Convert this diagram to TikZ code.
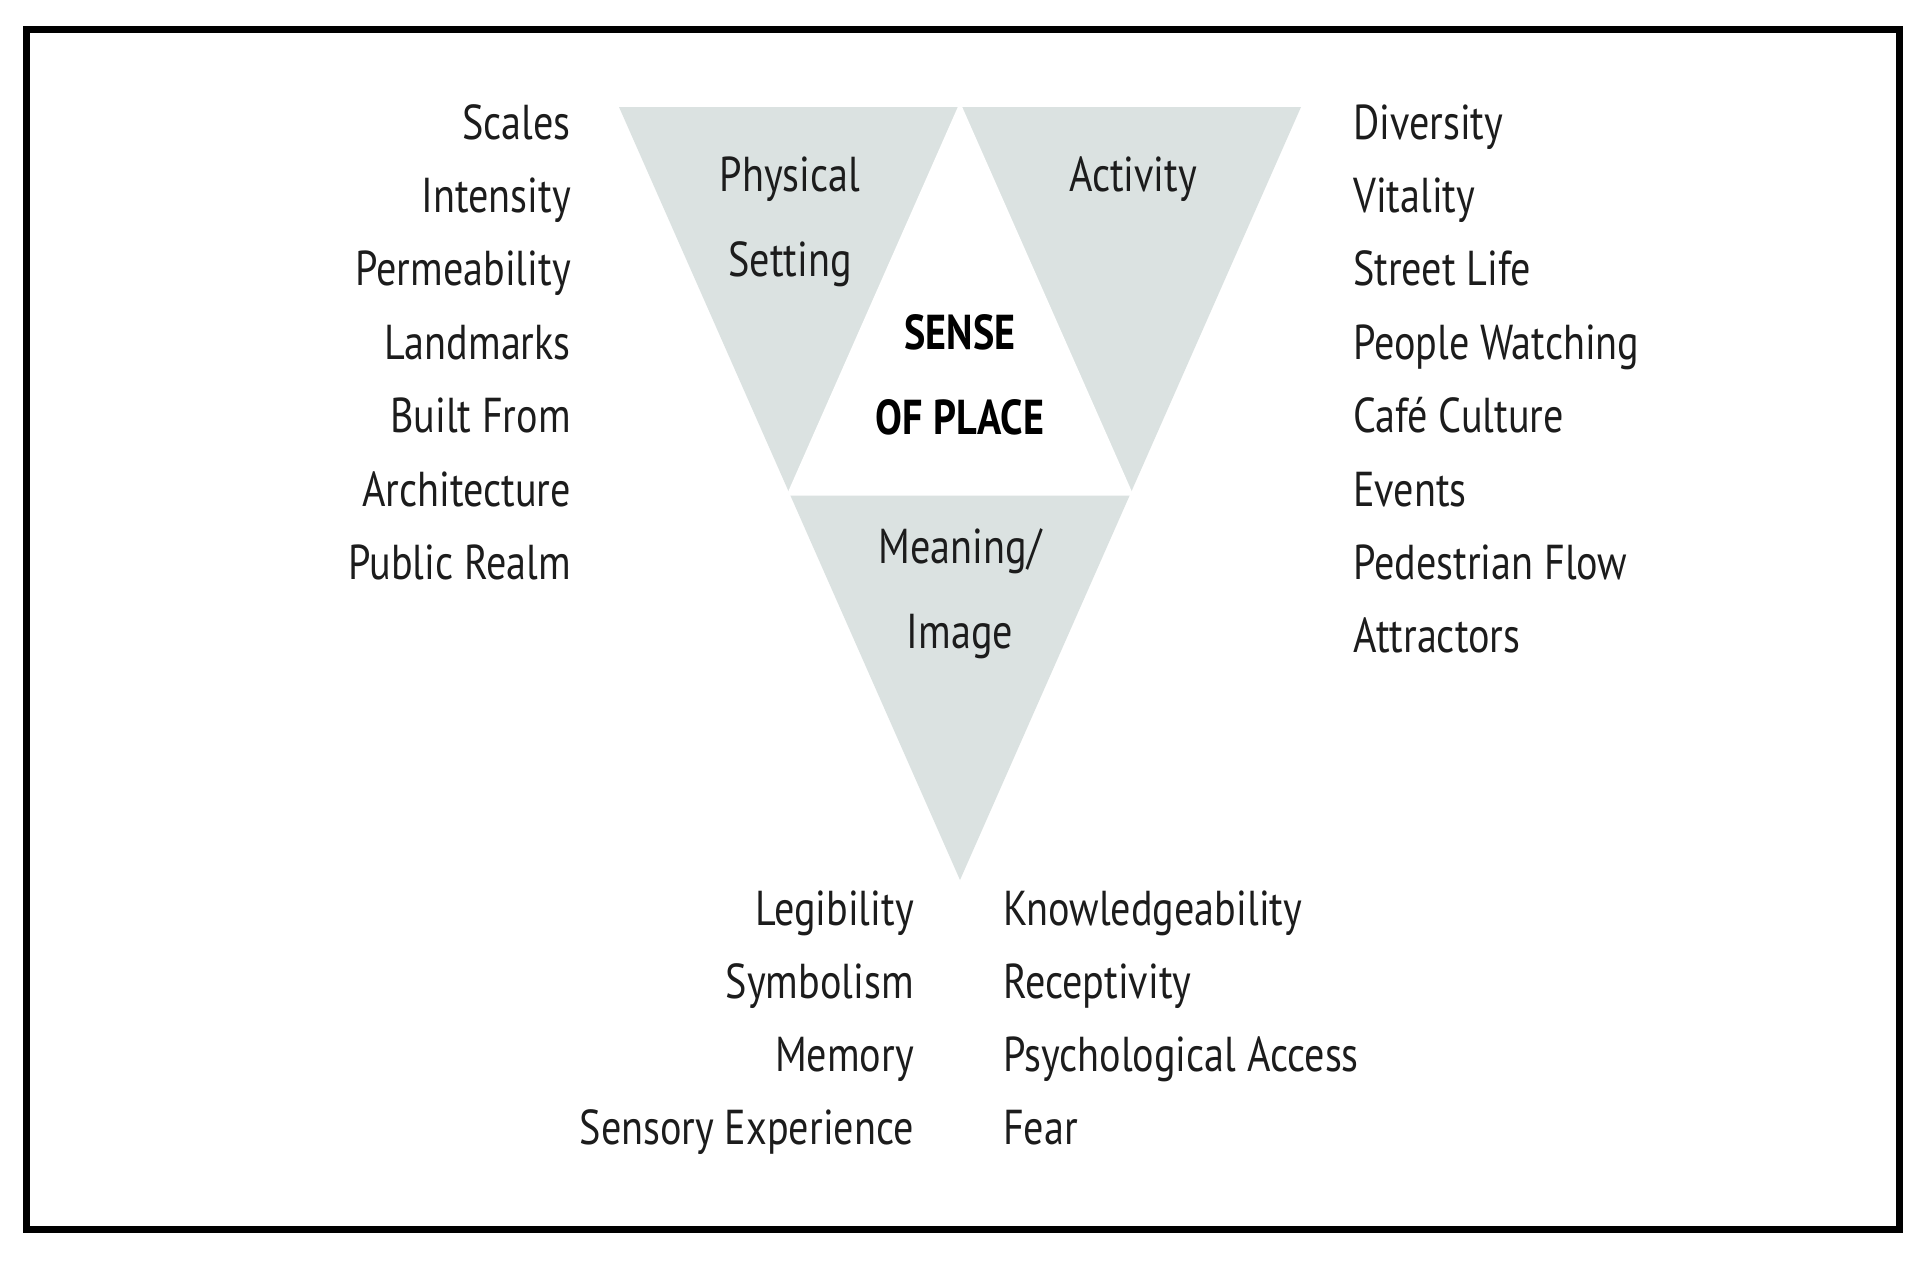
\documentclass[tikz,border=0pt]{standalone}
\usepackage{fontspec}
\usetikzlibrary{calc}
\setmainfont{PT Sans}[FakeStretch=0.82]
\definecolor{tri}{RGB}{219,226,225}
\definecolor{txt}{RGB}{28,28,28}
\tikzset{
  item/.style={font=\fontsize{49}{58}\selectfont, text=txt, inner sep=0pt},
  leftitem/.style={item, anchor=base east},
  rightitem/.style={item, anchor=base west},
  midlabel/.style={item, anchor=base},
  boldlabel/.style={item, anchor=base, font=\fontsize{49}{58}\selectfont\bfseries, text=black},
  triface/.style={fill=tri},
  frame/.style={draw=black, line width=7pt}
}
\begin{document}
\begin{tikzpicture}[x=1pt,y=-1pt]
\useasboundingbox (0,0) rectangle (1929,1274);
\fill[white] (0,0) rectangle (1929,1274);
% triangle corners
\coordinate (A) at (619,107);
\coordinate (B) at (1301,107);
\coordinate (C) at (960,880);
\coordinate (M1) at ($(A)!0.5!(B)$);
\coordinate (M2) at ($(A)!0.5!(C)$);
\coordinate (M3) at ($(B)!0.5!(C)$);
\fill[triface] (A) -- (M1) -- (M2) -- cycle;
\fill[triface] (M1) -- (B) -- (M3) -- cycle;
\fill[triface] (M2) -- (M3) -- (C) -- cycle;
\draw[white, line width=4pt, line join=miter] (M1) -- (M2) -- (M3) -- cycle;
% frame
\draw[frame] (26,29) rectangle (1899,1229);
% triangle labels
\node[midlabel] (phys) at (790,191) {Physical};
\node[midlabel] (sett) at (790,276) {Setting};
\node[midlabel] (act) at (1133,191) {Activity};
\node[boldlabel] (sense) at (960,349) {SENSE};
\node[boldlabel] (ofplace) at (960,434) {OF PLACE};
\node[midlabel] (mean) at (960,563) {Meaning/};
\node[midlabel] (img) at (960,648) {Image};
% left list
\node[leftitem] (l1) at (571,139) {Scales};
\node[leftitem] (l2) at (571,212.4) {Intensity};
\node[leftitem] (l3) at (571,285.8) {Permeability};
\node[leftitem] (l4) at (571,359.2) {Landmarks};
\node[leftitem] (l5) at (571,432.6) {Built From};
\node[leftitem] (l6) at (571,506) {Architecture};
\node[leftitem] (l7) at (571,579.4) {Public Realm};
% right list
\node[rightitem] (r1) at (1353,139) {Diversity};
\node[rightitem] (r2) at (1353,212.4) {Vitality};
\node[rightitem] (r3) at (1353,285.8) {Street Life};
\node[rightitem] (r4) at (1353,359.2) {People Watching};
\node[rightitem] (r5) at (1353,432.6) {Café Culture};
\node[rightitem] (r6) at (1353,506) {Events};
\node[rightitem] (r7) at (1353,579.4) {Pedestrian Flow};
\node[rightitem] (r8) at (1353,652.8) {Attractors};
% bottom lists
\node[leftitem] (b1) at (914,925) {Legibility};
\node[leftitem] (b2) at (914,998) {Symbolism};
\node[leftitem] (b3) at (914,1071) {Memory};
\node[leftitem] (b4) at (914,1144) {Sensory Experience};
\node[rightitem] (c1) at (1003,925) {Knowledgeability};
\node[rightitem] (c2) at (1003,998) {Receptivity};
\node[rightitem] (c3) at (1003,1071) {Psychological Access};
\node[rightitem] (c4) at (1003,1144) {Fear};
\end{tikzpicture}
\end{document}
